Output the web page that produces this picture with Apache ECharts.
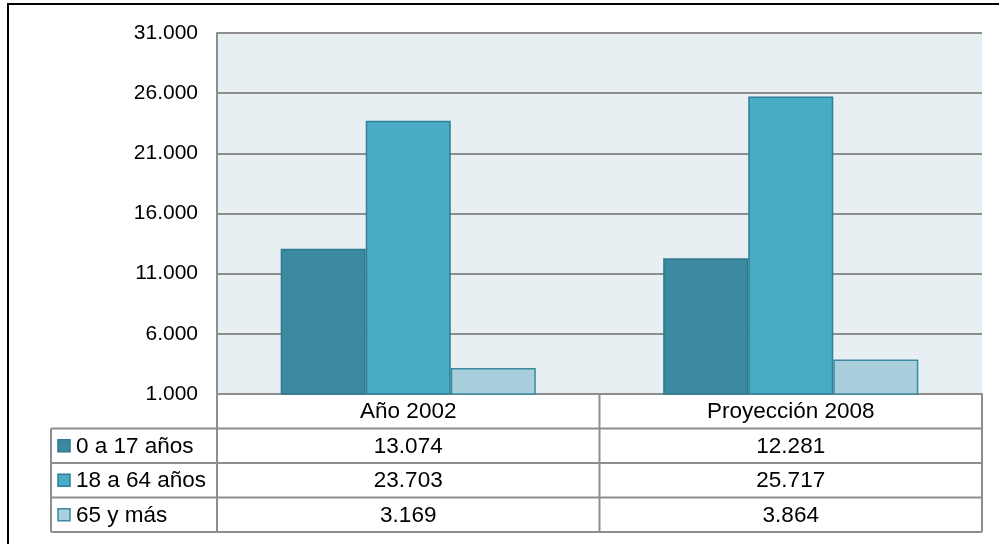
<!DOCTYPE html>
<html>
<head>
<meta charset="utf-8">
<script src="https://cdn.jsdelivr.net/npm/echarts@6/dist/echarts.min.js"></script>
<style>
html,body{margin:0;padding:0;background:#fff;}
#c{width:999px;height:544px;}
</style>
</head>
<body>
<div id="c"></div>
<script>
var categories = ['Año 2002', 'Proyección 2008'];
var seriesNames = ['0 a 17 años', '18 a 64 años', '65 y más'];
var values0to17 = [13074, 12281];
var values18to64 = [23703, 25717];
var values65plus = [3169, 3864];
var yTicks = [1000, 6000, 11000, 16000, 21000, 26000, 31000];

var seriesValues = [values0to17, values18to64, values65plus];
var fills = ['#3B8AA0', '#4AABC6', '#A9CFDD'];
var borders = ['#2E7A8F', '#2F7F96', '#3A8AA0'];
var gridCol = '#8E8E8E';
var FONT = 'Liberation Sans, Arial, sans-serif';
var FS = 21;
var FT = 22.5;

function fmt(v) {
  return String(v).replace(/\B(?=(\d{3})+(?!\d))/g, '.');
}

var G = {left: 217, top: 33, right: 982, bottom: 394};
var W = 999, H = 544;
var rowH = 34.5;
var tableLeft = 51;

var chart = echarts.init(document.getElementById('c'), null, {renderer: 'canvas'});

var series = seriesNames.map(function (n, i) {
  return {
    name: n,
    type: 'bar',
    data: seriesValues[i],
    barGap: '0%',
    barCategoryGap: '33.3%',
    clip: true,
    itemStyle: {color: fills[i], borderColor: borders[i], borderWidth: 1.5},
    emphasis: {disabled: true},
    silent: true
  };
});

var graphics = [];
graphics.push({type: 'rect', shape: {x: 8, y: 4, width: 1010, height: 560},
  style: {fill: null, stroke: '#000', lineWidth: 2}, z: 100});

var tableBottom = G.bottom + rowH * (seriesNames.length + 1);
var colW = (G.right - G.left) / categories.length;
var lineStyle = {stroke: gridCol, lineWidth: 2};
for (var r = 1; r <= seriesNames.length + 1; r++) {
  var y = G.bottom + rowH * r;
  graphics.push({type: 'line', shape: {x1: tableLeft, y1: y, x2: G.right, y2: y}, style: lineStyle, z: 50});
}
graphics.push({type: 'line', shape: {x1: tableLeft, y1: G.bottom + rowH, x2: tableLeft, y2: tableBottom}, style: lineStyle, z: 50});
for (var c = 0; c <= categories.length; c++) {
  var x = G.left + colW * c;
  graphics.push({type: 'line', shape: {x1: x, y1: G.bottom, x2: x, y2: tableBottom}, style: lineStyle, z: 50});
}
seriesNames.forEach(function (n, i) {
  var cy = G.bottom + rowH * (i + 1) + rowH / 2;
  graphics.push({type: 'rect', shape: {x: 58, y: cy - 6, width: 12, height: 12},
    style: {fill: fills[i], stroke: borders[i], lineWidth: 1.5}, z: 60});
  graphics.push({type: 'text', x: 76, y: cy + 1,
    style: {text: n, font: FT + 'px ' + FONT, fill: '#000', align: 'left', verticalAlign: 'middle'}, z: 60});
  seriesValues[i].forEach(function (v, j) {
    graphics.push({type: 'text', x: G.left + colW * (j + 0.5), y: cy + 1,
      style: {text: fmt(v), font: FT + 'px ' + FONT, fill: '#000', align: 'center', verticalAlign: 'middle'}, z: 60});
  });
});

chart.setOption({
  animation: false,
  backgroundColor: '#fff',
  grid: {left: G.left, top: G.top, right: W - G.right, bottom: H - G.bottom,
    show: true, backgroundColor: '#E8EFF3', borderWidth: 0, containLabel: false},
  xAxis: {
    type: 'category',
    data: categories,
    axisLine: {show: true, lineStyle: {color: gridCol, width: 2}},
    axisTick: {show: false},
    axisLabel: {fontFamily: FONT, fontSize: FT, color: '#000', margin: 6},
    splitLine: {show: false}
  },
  yAxis: {
    type: 'value',
    min: yTicks[0],
    max: yTicks[yTicks.length - 1],
    interval: yTicks[1] - yTicks[0],
    axisLine: {show: true, lineStyle: {color: gridCol, width: 2}},
    axisTick: {show: false},
    axisLabel: {fontFamily: FONT, fontSize: FS, color: '#000', margin: 19,
      formatter: function (v) { return fmt(v); }},
    splitLine: {show: true, lineStyle: {color: gridCol, width: 2}}
  },
  series: series,
  graphic: graphics
});
</script>
</body>
</html>
